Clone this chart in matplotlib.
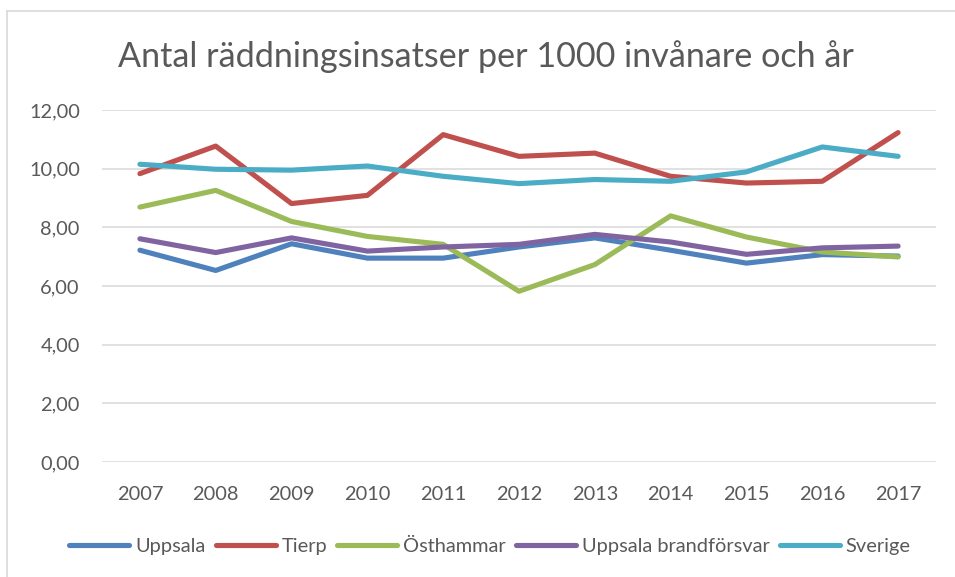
import numpy as np
import matplotlib.pyplot as plt
from matplotlib.lines import Line2D

plt.rcParams['font.family'] = ['Lato', 'DejaVu Sans']

years = ['2007', '2008', '2009', '2010', '2011', '2012', '2013', '2014', '2015', '2016', '2017']

uppsala = [7.22, 6.53, 7.44, 6.95, 6.95, 7.33, 7.64, 7.22, 6.78, 7.07, 7.02]
tierp = [9.83, 10.77, 8.81, 9.09, 11.16, 10.42, 10.53, 9.74, 9.51, 9.57, 11.23]
osthammar = [8.69, 9.26, 8.20, 7.69, 7.42, 5.82, 6.73, 8.39, 7.67, 7.16, 6.99]
brandforsvar = [7.61, 7.14, 7.64, 7.19, 7.33, 7.42, 7.76, 7.50, 7.08, 7.30, 7.36]
sverige = [10.15, 9.98, 9.95, 10.09, 9.74, 9.49, 9.63, 9.57, 9.89, 10.74, 10.42]

series = [
    ('Uppsala', uppsala, '#4F81BD'),
    ('Tierp', tierp, '#C0504D'),
    ('Östhammar', osthammar, '#9BBB59'),
    ('Uppsala brandförsvar', brandforsvar, '#8064A2'),
    ('Sverige', sverige, '#4BACC6'),
]

W, H = 955, 577
fig = plt.figure(figsize=(W / 100, H / 100), dpi=100)
ax = fig.add_axes([102 / W, 1 - 462 / H, (936 - 102) / W, (462 - 110) / H])

x = np.arange(len(years))
for name, vals, col in series:
    ax.plot(x, vals, color=col, lw=3.7, solid_capstyle='round', solid_joinstyle='round', label=name)

ax.set_xlim(-0.5, len(years) - 0.5)
ax.set_ylim(0, 12)
ax.set_yticks(np.arange(0, 13, 2))
ax.set_yticklabels([f'{v:.2f}'.replace('.', ',') for v in np.arange(0, 13, 2)])
ax.set_xticks(x)
ax.set_xticklabels(years)
ax.tick_params(axis='both', length=0, labelsize=14.4, colors='#595959')
ax.tick_params(axis='y', pad=16)
ax.tick_params(axis='x', pad=17)
ax.grid(axis='y', color='#D9D9D9', lw=1.1)
ax.set_axisbelow(True)
for s in ax.spines.values():
    s.set_visible(False)

fig.text(486 / W, 1 - 67 / H, 'Antal räddningsinsatser per 1000 invånare och år',
         ha='center', va='baseline', fontsize=24.6, color='#595959')

fig.legend(loc='center', bbox_to_anchor=(490 / W, 1 - 546 / H), ncol=5, frameon=False,
           fontsize=14.4, handlelength=3.0, handletextpad=0.3, columnspacing=0.5,
           labelcolor='#595959')

# chart border (only top and left visible in the crop)
fig.add_artist(Line2D([7 / W, 7 / W], [0, 1 - 11 / H], color='#D9D9D9', lw=1.2))
fig.add_artist(Line2D([7 / W, 1], [1 - 11 / H, 1 - 11 / H], color='#D9D9D9', lw=1.2))

fig.savefig('out.png', dpi=100)
